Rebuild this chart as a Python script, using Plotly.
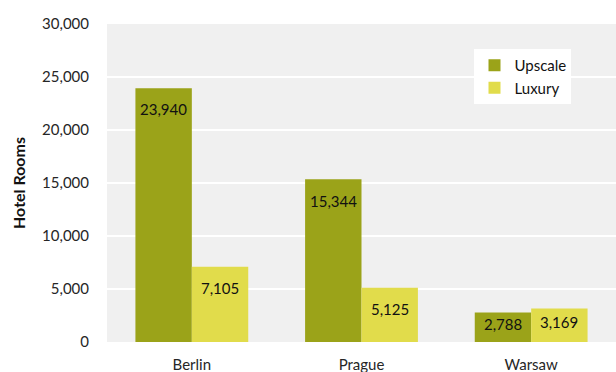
import plotly.graph_objects as go

cities = ["Berlin", "Prague", "Warsaw"]
upscale = [23940, 15344, 2788]
luxury = [7105, 5125, 3169]
y_ticks = [0, 5000, 10000, 15000, 20000, 25000, 30000]

UPSCALE_COLOR = "#9BA319"
LUXURY_COLOR = "#E1DC4B"
FONT = "Lato, 'Open Sans', sans-serif"

fig = go.Figure()
fig.add_trace(go.Bar(name="Upscale", x=cities, y=upscale, marker_color=UPSCALE_COLOR,
                     marker_line_width=0))
fig.add_trace(go.Bar(name="Luxury", x=cities, y=luxury, marker_color=LUXURY_COLOR,
                     marker_line_width=0))

# value labels placed just inside the top of each bar
for series, shift in ((upscale, -28.3), (luxury, 28.3)):
    for city, v in zip(cities, series):
        fig.add_annotation(x=city, y=max(v - 2000, v * 0.6), text=f"{v:,}",
                           xshift=shift, showarrow=False, yanchor="middle",
                           font=dict(family=FONT, size=15, color="#111111"))

fig.update_layout(
    width=616, height=372,
    margin=dict(l=107, r=0, t=24, b=30, autoexpand=False),
    paper_bgcolor="white",
    plot_bgcolor="#F0F0F0",
    barmode="group",
    bargap=0.335,
    bargroupgap=0,
    font=dict(family=FONT, size=15, color="#262626"),
    legend=dict(x=0.722, y=0.921, xanchor="left", yanchor="top",
                bgcolor="white", font=dict(size=15, color="#111111"),
                itemwidth=30, tracegroupgap=4),
    xaxis=dict(showgrid=False, ticks="outside", ticklen=9, automargin=False,
               tickcolor="rgba(0,0,0,0)", range=[-0.5, 2.5]),
    yaxis=dict(range=[0, 30000], tickvals=y_ticks, tickformat=",",
               gridcolor="white", gridwidth=2, zeroline=False, automargin=False,
               ticks="outside", ticklen=14, tickcolor="rgba(0,0,0,0)",
               title=dict(text="<b>Hotel Rooms</b>", font=dict(size=16, color="#111111"),
                          standoff=12)),
)

fig.write_html("out.html")
